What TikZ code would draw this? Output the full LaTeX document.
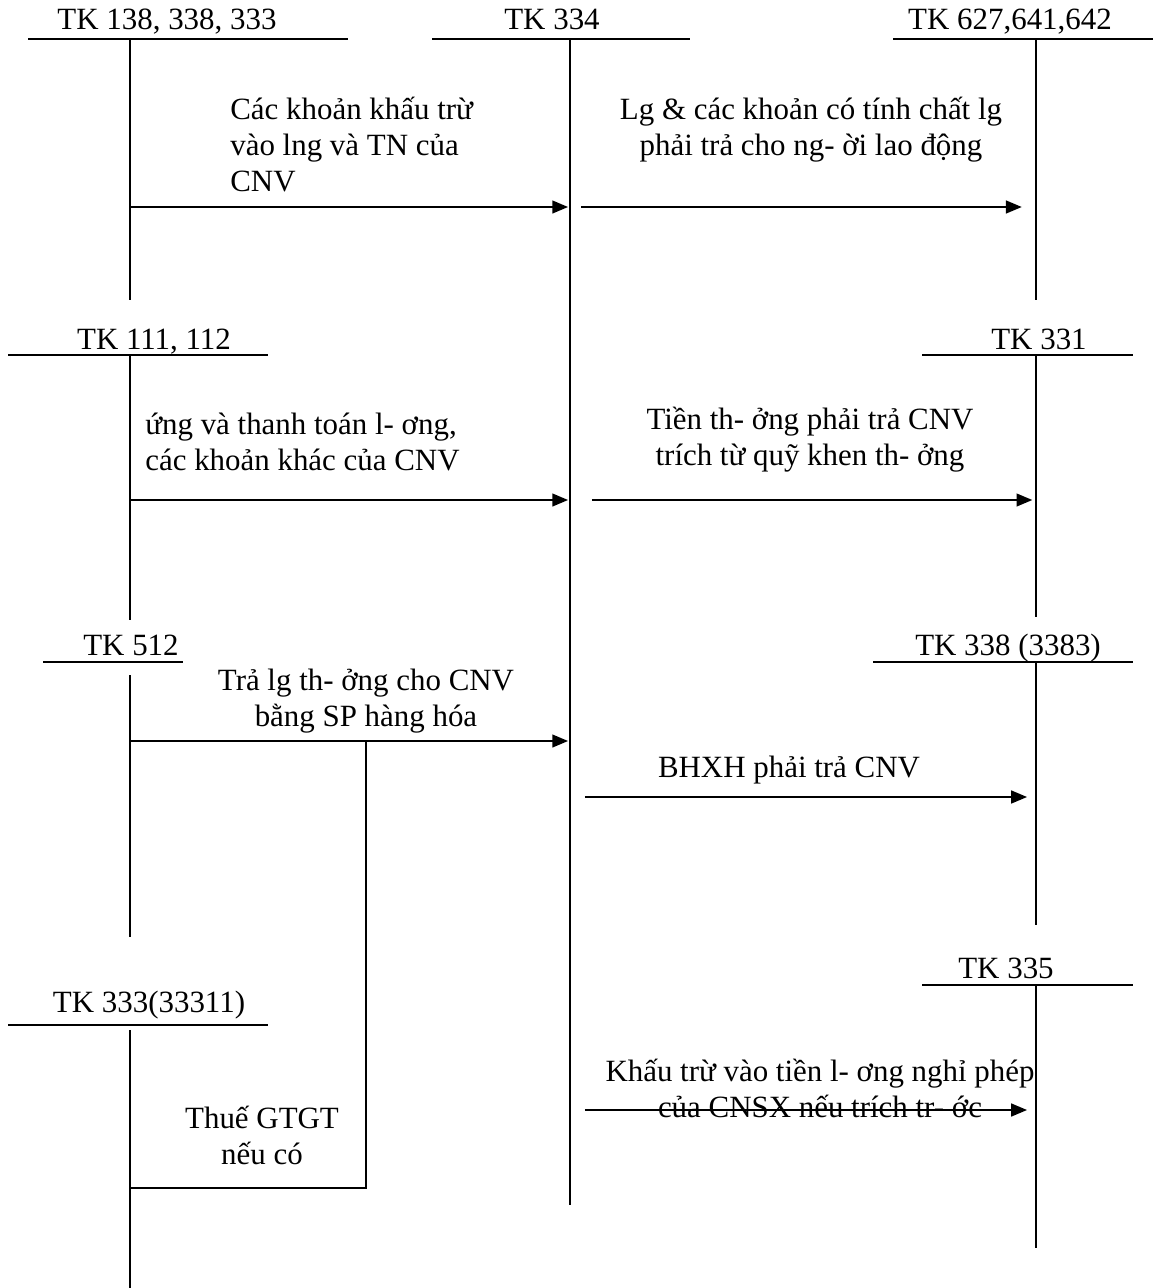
\documentclass[tikz,border=0pt]{standalone}
\usepackage{fontspec}
\setmainfont{Liberation Serif}
\usetikzlibrary{arrows.meta}

\begin{document}
\begin{tikzpicture}[x=0.02cm, y=-0.02cm, >={Triangle[length=0.32cm,width=0.25cm]},
        txt/.style={font=\fontsize{17.6}{20.5}\selectfont, inner sep=0pt},
        tline/.style={line width=1pt},
        flow/.style={->, line width=1.6pt}]
        \useasboundingbox (0,0) rectangle (1155,1288);
        % tai khoan chu T
        \coordinate (k1) at (130,39);
        \coordinate (k2) at (570,39);
        \coordinate (k3) at (1036,39);
        \coordinate (k4) at (130,355);
        \coordinate (k5) at (1036,355);
        \coordinate (k6) at (130,662);
        \coordinate (k7) at (1036,662);
        \coordinate (k8) at (130,1025);
        \coordinate (k9) at (1036,985);
        \node[txt, anchor=base] (t1) at (167,30) {TK 138, 338, 333};
        \node[txt, anchor=base] (t2) at (552,30) {TK 334};
        \node[txt, anchor=base] (t3) at (1010,30) {TK 627,641,642};
        \node[txt, anchor=base] (t4) at (154,349) {TK 111, 112};
        \node[txt, anchor=base] (t5) at (1039,349) {TK 331};
        \node[txt, anchor=base] (t6) at (131,655) {TK 512};
        \node[txt, anchor=base] (t7) at (1008,655) {TK 338 (3383)};
        \node[txt, anchor=base] (t8) at (149,1012) {TK 333(33311)};
        \node[txt, anchor=base] (t9) at (1006,978) {TK 335};
        \draw[tline] (28,39) -- (348,39) (k1) -- (130,300);
        \draw[tline] (432,39) -- (690,39) (k2) -- (570,1205);
        \draw[tline] (893,39) -- (1153,39) (k3) -- (1036,300);
        \draw[tline] (8,355) -- (268,355) (k4) -- (130,620);
        \draw[tline] (922,355) -- (1133,355) (k5) -- (1036,617);
        \draw[tline] (43,662) -- (183,662) (130,675) -- (130,937);
        \draw[tline] (873,662) -- (1133,662) (k7) -- (1036,925);
        \draw[tline] (8,1025) -- (268,1025) (130,1030) -- (130,1288);
        \draw[tline] (922,985) -- (1133,985) (k9) -- (1036,1248);
        % cac nghiep vu
        \node[txt, anchor=west, align=left] (n1) at (230,145) {Các khoản khấu trừ\\vào lng và TN của\\CNV};
        \draw[flow, shorten >=1pt] (k1 |- 0,207) -- (k2 |- 0,207);
        \node[txt, align=center] (n2) at (811,130) {Lg \& các khoản có tính chất lg\\phải trả cho ng- ời lao động};
        \draw[flow, shorten <=6.5pt, shorten >=8pt] (k2 |- 0,207) -- (k3 |- 0,207);
        \node[txt, anchor=west, align=left] (n3) at (145,442) {ứng và thanh toán l- ơng,\\các khoản khác của CNV};
        \draw[flow, shorten >=1pt] (k4 |- 0,500) -- (k2 |- 0,500);
        \node[txt, align=center] (n4) at (810,440) {Tiền th- ởng phải trả CNV\\trích từ quỹ khen th- ởng};
        \draw[flow, shorten <=12.5pt, shorten >=2pt] (k2 |- 0,500) -- (k5 |- 0,500);
        \node[txt, align=center] (n5) at (366,701) {Trả lg th- ởng cho CNV\\bằng SP hàng hóa};
        \coordinate (b1) at (366,741);
        \draw[flow, shorten >=1pt] (k6 |- 0,741) -- (k2 |- 0,741);
        \draw[tline] (b1) |- (k8 |- 0,1188);
        \node[txt, align=center] (n6) at (262,1135) {Thuế GTGT\\nếu có};
        \node[txt] (n7) at (789,770) {BHXH phải trả CNV};
        \draw[flow, shorten <=8.5pt, shorten >=5pt] (k2 |- 0,797) -- (k7 |- 0,797);
        \node[txt, align=center] (n8) at (820,1088) {Khấu trừ vào tiền l- ơng nghỉ phép\\của CNSX nếu trích tr- ớc};
        \draw[flow, shorten <=8.5pt, shorten >=5pt] (k2 |- 0,1110) -- (k9 |- 0,1110);
    \end{tikzpicture}
\end{document}
